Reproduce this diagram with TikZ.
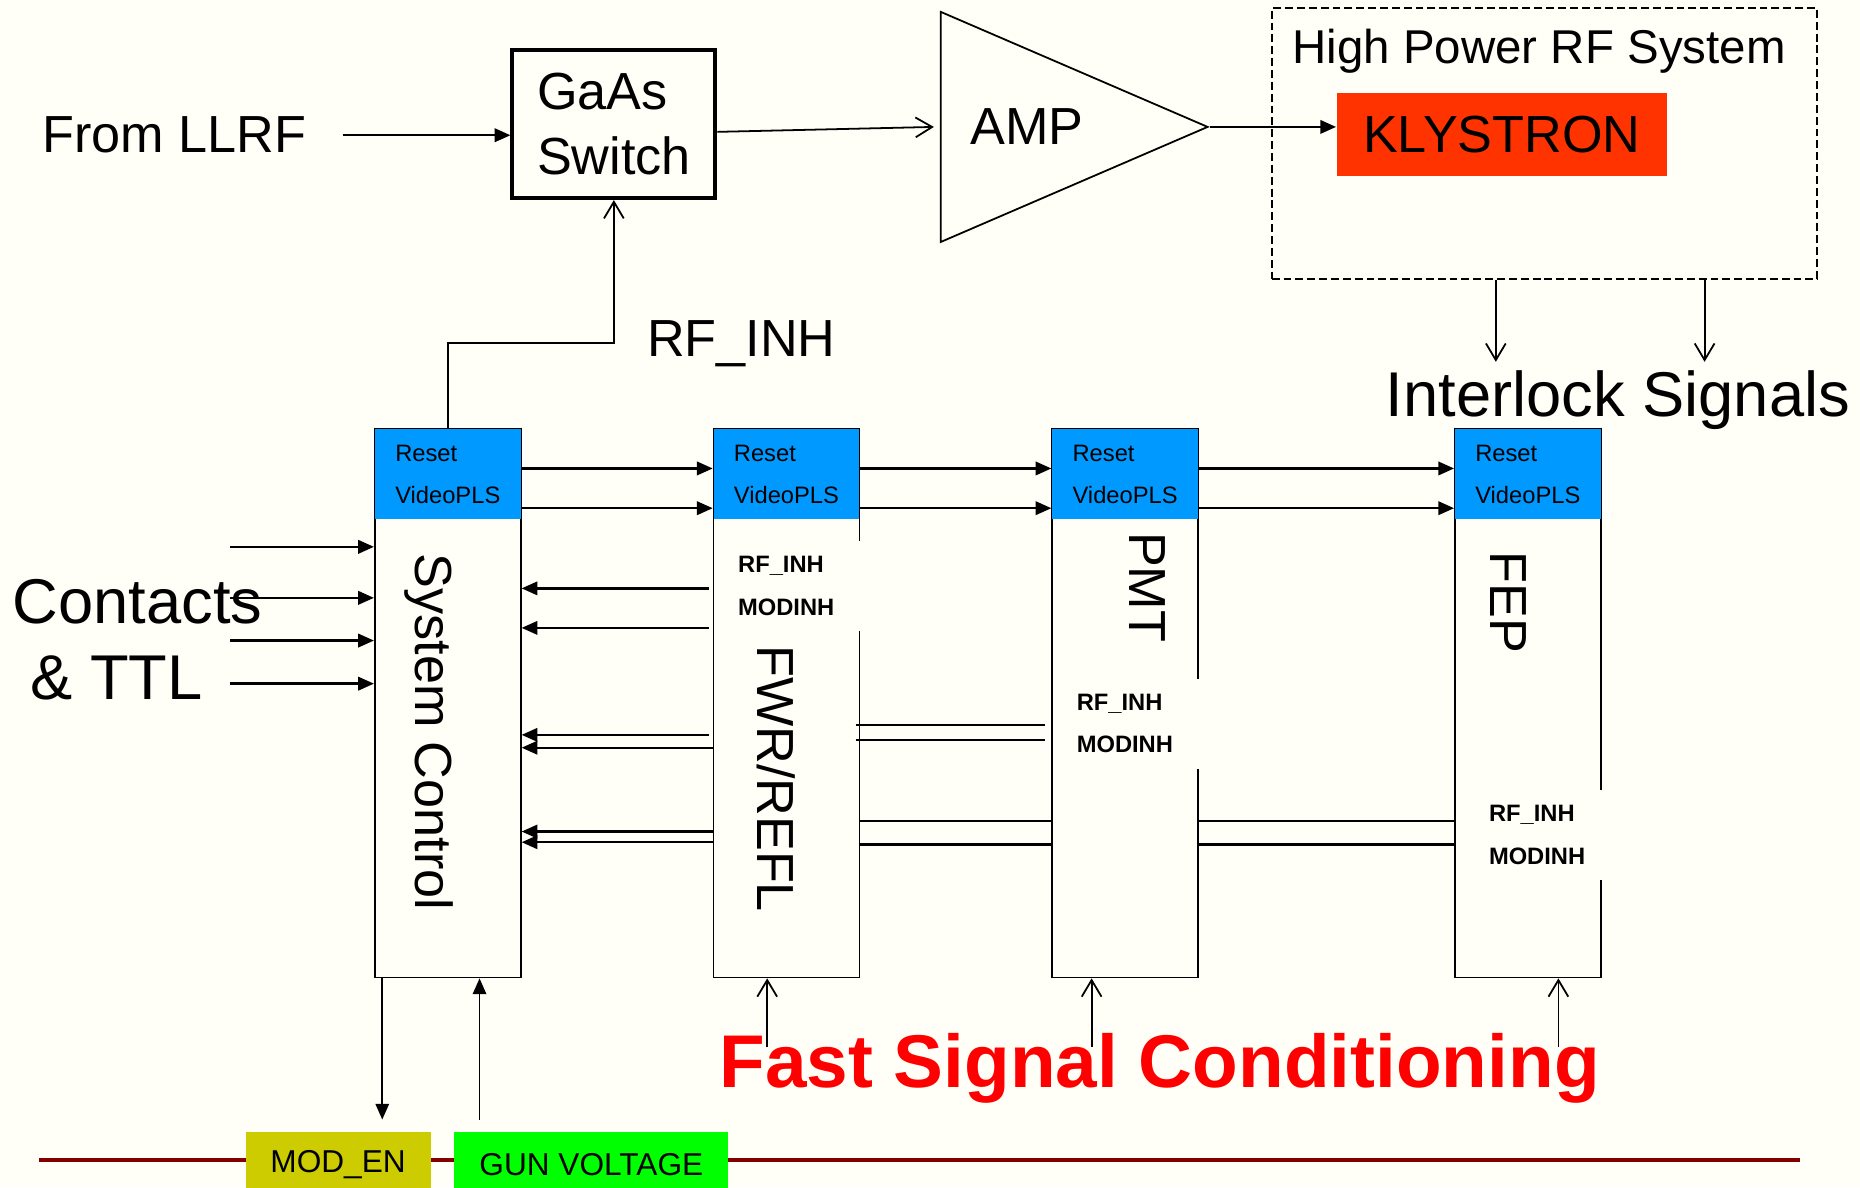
\documentclass[tikz,border=0pt]{standalone}
\usepackage{fontspec}
\setmainfont{Liberation Sans}
\usetikzlibrary{arrows.meta,positioning,shapes.geometric}
\definecolor{bgcream}{HTML}{FFFFF7}
\definecolor{hdrblue}{HTML}{0099FF}
\definecolor{klyred}{HTML}{FF3300}
\definecolor{modolive}{HTML}{CCCC00}
\definecolor{gungreen}{HTML}{00FF00}
\definecolor{busred}{HTML}{800000}
\definecolor{fscred}{HTML}{FF0000}
\tikzset{
  >=Triangle,
  big/.style={font=\fontsize{13.2}{16.5}\selectfont},
  card/.style={rectangle,draw,line width=0.45pt,minimum width=36.9pt,
               minimum height=138.6pt,inner sep=0pt},
  hdr/.style={rectangle,fill=hdrblue,minimum width=36.9pt,minimum height=22.8pt,
              inner sep=0pt,align=left,font=\fontsize{6}{10.5}\selectfont},
  sig/.style={rectangle,fill=bgcream,minimum height=22.8pt,inner xsep=1.5pt,
              inner ysep=0pt,align=left,font=\fontsize{6}{10.8}\selectfont\bfseries},
  vlab/.style={rotate=-90,inner sep=0pt,font=\fontsize{13.2}{16}\selectfont},
  tag/.style={rectangle,minimum height=16.5pt,inner sep=0pt,
              font=\fontsize{8}{9.6}\selectfont},
  farr/.style={-{Triangle[length=4pt,width=3.4pt]},line width=0.6pt},
  oarr/.style={-{Straight Barb[length=4.2pt,width=5pt]},line width=0.45pt},
}
\begin{document}
\begin{tikzpicture}[x=0.3pt,y=-0.3pt]
  \useasboundingbox (0,0) rectangle (1568,1001);
  \clip (0,0) rectangle (1568,1001);
  \fill[bgcream] (0,0) rectangle (1568,1001);

  % RF chain
  \node[big,anchor=west,inner sep=0pt] (llrf) at (35,114) {From LLRF};
  \node[big,draw,line width=1pt,minimum width=51.3pt,minimum height=37.5pt,
        align=left] (gaas) at (517.5,104.5) {GaAs\\Switch};
  \node[isosceles triangle,isosceles triangle stretches,draw,line width=0.45pt,
        minimum width=58.2pt,minimum height=67.5pt,inner sep=0pt,
        anchor=apex] (amp) at (1020,107) {};
  \node[big,inner sep=0pt,right=7.5pt of amp.west] (amptxt) {AMP};
  \node[draw,dash pattern=on 2pt off 1pt,line width=0.45pt,minimum width=138pt,
        minimum height=68.4pt] (hprf) at (1302,121) {};
  \node[font=\fontsize{12}{14}\selectfont,inner sep=0pt] (hptitle)
        at (1297.5,43) {High Power RF System};
  \node[big,fill=klyred,minimum width=83.4pt,minimum height=21pt] (kly)
        at (1266,113) {KLYSTRON};
  \node[font=\fontsize{16}{19}\selectfont,inner sep=0pt] (ils)
        at (1364,337) {Interlock Signals};
  \coordinate (ila) at (1261,305);
  \coordinate (ilb) at (1437,305);

  \draw[farr,shorten <=9pt] (llrf.east) -- (llrf.east -| gaas.west);
  \draw[oarr] ([yshift=-2pt]gaas.east) -- ([xshift=-1.5pt]amp.west);
  \draw[farr] (amp.apex) -- (amp.apex -| kly.west);
  \draw[oarr] (hprf.south -| ila) -- (ila);
  \draw[oarr] (hprf.south -| ilb) -- (ilb);

  % Modules
  \node[card] (card1) at (377.5,593) {};
  \node[card,right=48.3pt of card1] (card2) {};
  \node[card,right=48.3pt of card2] (card3) {};
  \node[card,right=64.5pt of card3] (card4) {};
  \foreach \i in {1,...,4}{
    \node[hdr,anchor=north] (hd\i) at (card\i.north) {Reset\\VideoPLS};
    \draw[line width=0.45pt] (hd\i.north west) -- (hd\i.north east);
  }
  \node[vlab] (sc)  at ([xshift=-4.65pt,yshift=-7.2pt]card1.center) {System Control};
  \node[vlab] (fwr) at ([xshift=-2.7pt,yshift=-19pt]card2.center) {FWR/REFL};
  \node[vlab] (pmt) at ([xshift=5.55pt,yshift=29.4pt]card3.center) {PMT};
  \node[vlab] (fep) at ([xshift=-4.95pt,yshift=25.6pt]card4.center) {FEP};

  \node[sig,text width=29.7pt,anchor=east] (sig2)
        at ([xshift=0.5pt,yshift=29.7pt]card2.east) {RF\_INH\\MODINH};
  \node[sig,text width=29.7pt,anchor=east] (sig3)
        at ([xshift=0.5pt,yshift=-5.1pt]card3.east) {RF\_INH\\MODINH};
  \node[sig,text width=27.3pt,anchor=east] (sig4)
        at ([xshift=0.5pt,yshift=-33.3pt]card4.east) {RF\_INH\\MODINH};

  \node[big,inner sep=0pt] (rfinh) at (625,290) {RF\_INH};
  \draw[oarr] (hd1.north) -- ++(0,-72) -| (gaas.south);

  % Contacts
  \node[anchor=west,inner sep=0pt,align=left,font=\fontsize{16}{19.2}\selectfont]
        (ctt) at (10,539) {Contacts\\\hspace*{4.5pt}\& TTL};
  \foreach \dy in {39.6pt,26.7pt,15.9pt,5pt}
    \draw[farr] ([xshift=-36.3pt,yshift=\dy]card1.west) -- ([yshift=\dy]card1.west);

  % Reset / VideoPLS chain
  \foreach \a/\b in {1/2,2/3,3/4}
    \foreach \dy in {1.5pt,-8.55pt}
      \draw[farr] ([yshift=\dy]hd\a.east) -- ([yshift=\dy]hd\b.west);

  % Inhibit lines
  \foreach \dy in {29.1pt,19.1pt,-7.95pt}
    \draw[farr] ([xshift=-1pt,yshift=\dy]card2.west) -- ([yshift=\dy]card1.east);
  \foreach \dy in {-11.2pt,-32.4pt,-35.1pt}
    \draw[farr] ([yshift=\dy]card2.west) -- ([yshift=\dy]card1.east);
  \foreach \dy in {-5.4pt,-9.3pt}
    \draw[line width=0.6pt] ([xshift=-1.2pt,yshift=\dy]card2.east)
      -- ([xshift=-1.5pt,yshift=\dy]card3.west);
  \foreach \a/\b in {2/3,3/4}
    \foreach \dy in {-29.7pt,-35.7pt}
      \draw[line width=0.6pt] ([yshift=\dy]card\a.east) -- ([yshift=\dy]card\b.west);

  % Bottom bus
  \coordinate (busl) at (33,977.5);
  \coordinate (busr) at (1517,977.5);
  \draw[busred,line width=1pt] (busl) -- (busr);
  \node[tag,fill=modolive,minimum width=46.8pt] (moden) at (285,982) {MOD\_EN};
  \node[tag,fill=gungreen,minimum width=69.3pt] (gunv) at (498.5,982) {GUN VOLTAGE};
  \coordinate (mo) at ([xshift=2.1pt]card1.south west);
  \coordinate (gv) at ([xshift=26.7pt]card1.south west);
  \draw[farr,line width=0.45pt,shorten >=3pt] (mo) -- (mo |- moden.north);
  \draw[farr,line width=0.45pt,shorten <=3pt] (gv |- gunv.north) -- (gv);

  % Fast signal conditioning
  \node[font=\fontsize{18.9}{23}\selectfont\bfseries,text=fscred,inner sep=0pt]
        (fsc) at (977.5,901) {Fast Signal Conditioning};
  \foreach \i/\dx in {2/13.8pt,3/10.2pt,4/26.4pt}
    \draw[oarr] ([xshift=\dx,yshift=-17.4pt]card\i.south west)
      -- ([xshift=\dx]card\i.south west);
\end{tikzpicture}
\end{document}
